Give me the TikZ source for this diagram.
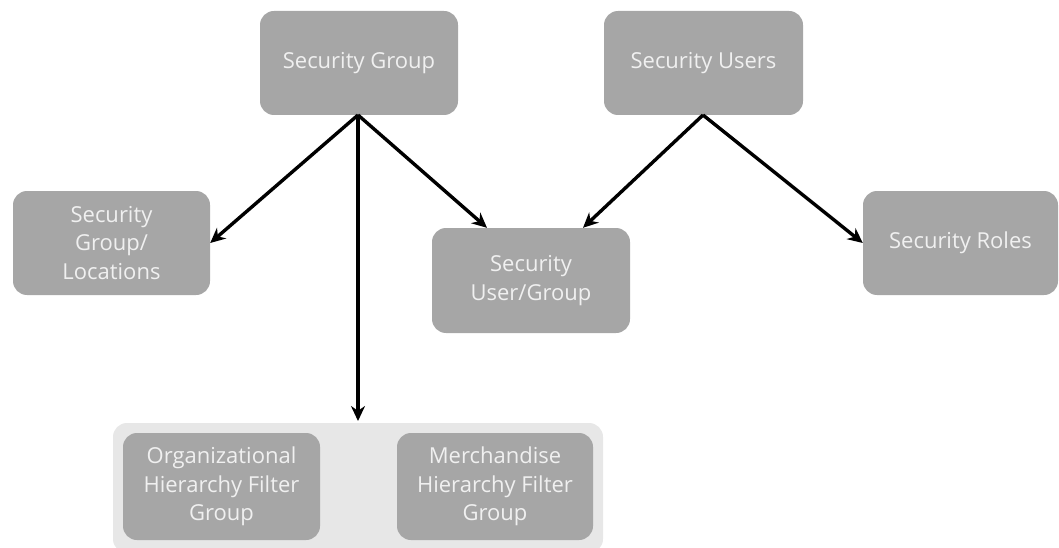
\documentclass[tikz,border=0pt]{standalone}
\usepackage{fontspec}
\setmainfont{Open Sans}
\usetikzlibrary{arrows.meta}
\definecolor{boxgrey}{HTML}{A6A6A6}
\definecolor{bggrey}{HTML}{E7E7E7}
\definecolor{txtgrey}{HTML}{F0F0F0}
\begin{document}
\begin{tikzpicture}[x=1pt,y=-1pt,
  box/.style={draw=none,fill=boxgrey,rounded corners=14pt,text=txtgrey,
    font=\fontsize{22}{28.5}\selectfont,align=center,inner sep=0pt},
  conn/.style={-{Stealth[length=15pt,width=14pt]},line width=3.4pt,black}]
\useasboundingbox (0,0) rectangle (1059,548);
\node[fill=bggrey,rounded corners=14pt,minimum width=490pt,minimum height=130pt,inner sep=0pt] (bg) at (358,488) {};
\node[box,minimum width=198pt,minimum height=104pt] (sg) at (359,63) {Security Group};
\node[box,minimum width=199pt,minimum height=104pt] (su) at (703.5,63) {Security Users};
\node[box,minimum width=197pt,minimum height=104pt] (sgl) at (111.5,243) {Security\\Group/\\Locations};
\node[box,minimum width=198pt,minimum height=105pt] (sug) at (531,280.5) {Security\\User/Group};
\node[box,minimum width=195pt,minimum height=104pt] (sr) at (960.5,243) {Security Roles};
\node[box,minimum width=197pt,minimum height=107pt] (ohf) at (221.5,486.5) {Organizational\\Hierarchy Filter\\Group};
\node[box,minimum width=196pt,minimum height=107pt] (mhf) at (495,486.5) {Merchandise\\Hierarchy Filter\\Group};
\coordinate (sgb) at (358,115);
\coordinate (sub) at (703,115);
\coordinate (down) at (358,421);
\draw[conn] (sgb) -- (sgl.east);
\draw[conn] (sgb) -- (sug.north -| 487,0);
\draw[conn] (sgb) -- (down);
\draw[conn] (sub) -- (sug.north -| 583,0);
\draw[conn] (sub) -- (sr.west);
\end{tikzpicture}
\end{document}
